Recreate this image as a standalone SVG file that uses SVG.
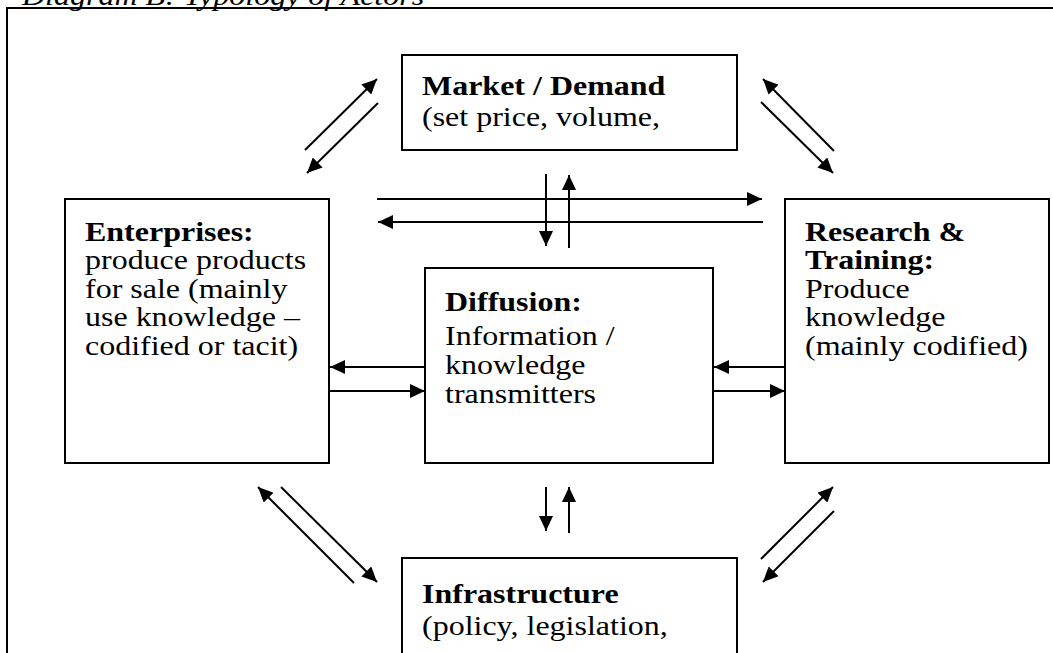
<svg xmlns="http://www.w3.org/2000/svg" width="1053" height="653" viewBox="0 0 1053 653">
<defs>
<style>
.box{fill:#fff;stroke:#000;stroke-width:2}
.t{font-family:"Liberation Serif","Times New Roman",serif;font-size:32px;fill:#000}
.b{font-weight:bold}
.c{stroke:#000;stroke-width:2;fill:none;marker-end:url(#ah)}
</style>
<marker id="ah" markerUnits="userSpaceOnUse" markerWidth="15" markerHeight="14" refX="15" refY="7" orient="auto">
<path d="M0,0 L15,7 L0,14 z" fill="#000"/>
</marker>
</defs>
<rect width="1053" height="653" fill="#fff"/>
<text class="t" transform="translate(22,5) scale(1,0.86)" font-style="italic">Diagram B: Typology of Actors</text>
<rect x="7" y="8" width="1060" height="660" fill="none" stroke="#000" stroke-width="2"/>

<g id="market">
<rect class="box" x="402" y="55" width="335" height="95"/>
<text class="t" transform="translate(422,95) scale(1,0.86)"><tspan class="b" x="0" y="0">Market / Demand</tspan><tspan x="0" dy="36.5">(set price, volume,</tspan></text>
</g>
<g id="enterprises">
<rect class="box" x="65" y="199" width="264" height="264"/>
<text class="t" transform="translate(85,241) scale(1,0.86)"><tspan class="b" x="0" y="0">Enterprises:</tspan><tspan x="0" dy="33.1">produce products</tspan><tspan x="0" dy="33.1">for sale (mainly</tspan><tspan x="0" dy="33.1">use knowledge –</tspan><tspan x="0" dy="33.1">codified or tacit)</tspan></text>
</g>
<g id="diffusion">
<rect class="box" x="425" y="268" width="288" height="195"/>
<text class="t" transform="translate(445,311) scale(1,0.86)"><tspan class="b" x="0" y="0">Diffusion:</tspan><tspan x="0" dy="40">Information /</tspan><tspan x="0" dy="33.5">knowledge</tspan><tspan x="0" dy="33.5">transmitters</tspan></text>
</g>
<g id="research">
<rect class="box" x="785" y="199" width="264" height="264"/>
<text class="t" transform="translate(805,241) scale(1,0.86)"><tspan class="b" x="0" y="0">Research &amp;</tspan><tspan x="0" dy="33.1" class="b">Training:</tspan><tspan x="0" dy="33.1">Produce</tspan><tspan x="0" dy="33.1">knowledge</tspan><tspan x="0" dy="33.1">(mainly codified)</tspan></text>
</g>
<g id="infrastructure">
<rect class="box" x="402" y="558" width="335" height="120"/>
<text class="t" transform="translate(422,603) scale(1,0.86)"><tspan class="b" x="0" y="0">Infrastructure</tspan><tspan x="0" dy="37">(policy, legislation,</tspan></text>
</g>

<g id="connectors">
<line class="c" x1="305" y1="150" x2="377" y2="79"/>
<line class="c" x1="378" y1="103" x2="307" y2="173"/>
<line class="c" x1="834" y1="151" x2="763" y2="79"/>
<line class="c" x1="761" y1="102" x2="833" y2="173"/>
<line class="c" x1="354" y1="583" x2="258" y2="487"/>
<line class="c" x1="281" y1="487" x2="377" y2="582"/>
<line class="c" x1="761" y1="559" x2="833" y2="487"/>
<line class="c" x1="834" y1="511" x2="763" y2="582"/>
<line class="c" x1="377" y1="199" x2="762" y2="199"/>
<line class="c" x1="763" y1="222" x2="378" y2="222"/>
<line class="c" x1="546" y1="174" x2="546" y2="246"/>
<line class="c" x1="569" y1="248" x2="569" y2="175"/>
<line class="c" x1="425" y1="367" x2="330" y2="367"/>
<line class="c" x1="330" y1="391" x2="425" y2="391"/>
<line class="c" x1="785" y1="367" x2="714" y2="367"/>
<line class="c" x1="714" y1="391" x2="785" y2="391"/>
<line class="c" x1="546" y1="487" x2="546" y2="531"/>
<line class="c" x1="569" y1="533" x2="569" y2="487"/>
</g>
</svg>
